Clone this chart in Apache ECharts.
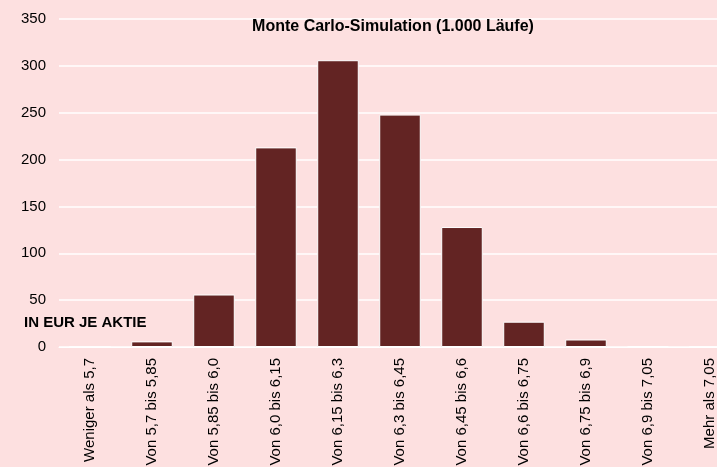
<!DOCTYPE html>
<html>
<head>
<meta charset="utf-8">
<script src="https://cdn.jsdelivr.net/npm/echarts@6/dist/echarts.min.js"></script>
<style>
  html, body { margin: 0; padding: 0; background: #fde0e0; }
  #chart { width: 717px; height: 467px; }
</style>
</head>
<body>
<div id="chart"></div>
<script>
// Klassen der Verteilung (EUR je Aktie)
const categories = [
  "Weniger als 5,7",
  "Von 5,7 bis 5,85",
  "Von 5,85 bis 6,0",
  "Von 6,0 bis 6,15",
  "Von 6,15 bis 6,3",
  "Von 6,3 bis 6,45",
  "Von 6,45 bis 6,6",
  "Von 6,6 bis 6,75",
  "Von 6,75 bis 6,9",
  "Von 6,9 bis 7,05",
  "Mehr als 7,05",
];
// Häufigkeiten aus 1.000 Läufen
const counts = [0, 6, 56, 213, 306, 248, 128, 27, 8, 1, 0];
const yTicks = [0, 50, 100, 150, 200, 250, 300, 350];

const chart = echarts.init(document.getElementById("chart"), null, { renderer: "canvas" });

chart.setOption({
  backgroundColor: "#fde0e0",
  animation: false,
  title: {
    text: "Monte Carlo-Simulation (1.000 Läufe)",
    left: 388,
    top: 14,
    textAlign: "center",
    textStyle: {
      fontFamily: "Liberation Sans, Arial, sans-serif",
      fontSize: 16,
      fontWeight: "bold",
      color: "#000",
    },
  },
  graphic: [
    {
      type: "text",
      left: 24,
      top: 315,
      style: {
        text: "IN EUR JE AKTIE",
        font: "bold 15px 'Liberation Sans', Arial, sans-serif",
        fill: "#000",
      },
    },
  ],
  // the plot runs past the right edge, so the last category is cut off
  grid: {
    left: 59,
    width: 682,
    top: 19,
    bottom: 120,
    containLabel: false,
    outerBoundsMode: "none",
  },
  xAxis: {
    type: "category",
    data: categories,
    axisLine: { show: true, lineStyle: { color: "#ffffff", width: 1 } },
    axisTick: { show: false },
    axisLabel: {
      rotate: 90,
      margin: 11,
      interval: 0,
      fontFamily: "Liberation Sans, Arial, sans-serif",
      fontSize: 15,
      color: "#000",
    },
  },
  yAxis: {
    type: "value",
    min: yTicks[0],
    max: yTicks[yTicks.length - 1],
    interval: 50,
    axisLine: { show: false },
    axisTick: { show: false },
    splitLine: { lineStyle: { color: "#ffffff", width: 1.5 } },
    axisLabel: {
      margin: 13,
      fontFamily: "Liberation Sans, Arial, sans-serif",
      fontSize: 15,
      color: "#000",
    },
  },
  series: [
    {
      type: "bar",
      data: counts,
      barCategoryGap: "33%",
      itemStyle: {
        color: "#632423",
        borderColor: "#ffffff",
        borderWidth: 1,
      },
    },
  ],
});
</script>
</body>
</html>
